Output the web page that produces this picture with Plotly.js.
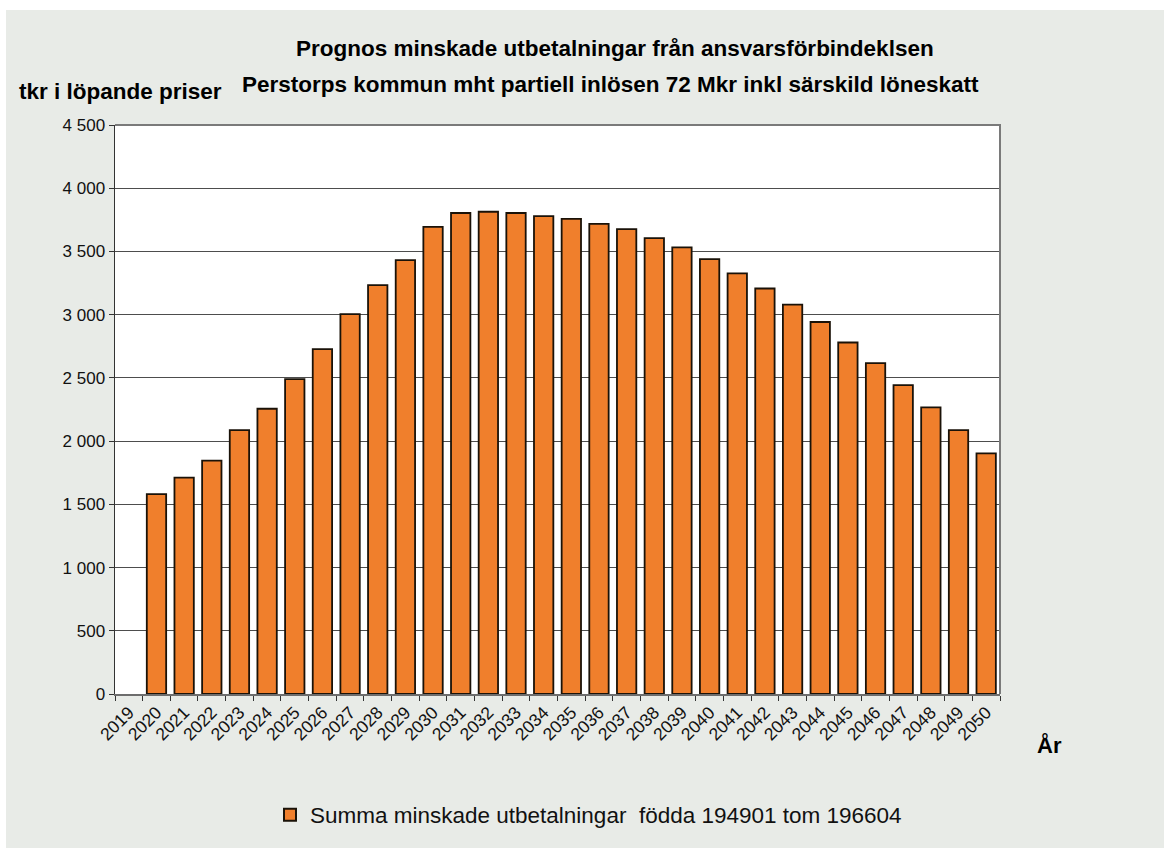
<!DOCTYPE html>
<html>
<head>
<meta charset="utf-8">
<script src="https://cdn.plot.ly/plotly-3.0.1.min.js"></script>
<style>
  html, body { margin: 0; padding: 0; background: #ffffff; }
  #chart { position: absolute; left: 6px; top: 10px; width: 1158px; height: 838px; }
</style>
</head>
<body>
<div id="chart"></div>
<script>
// ---- data ----
const years = ['2019','2020','2021','2022','2023','2024','2025','2026','2027','2028','2029',
  '2030','2031','2032','2033','2034','2035','2036','2037','2038','2039','2040',
  '2041','2042','2043','2044','2045','2046','2047','2048','2049','2050'];
const values = [null, 1580, 1712, 1845, 2087, 2256, 2490, 2727, 3005, 3233, 3432,
  3695, 3804, 3814, 3804, 3780, 3758, 3718, 3677, 3605, 3532, 3440,
  3326, 3207, 3079, 2942, 2780, 2616, 2442, 2267, 2087, 1903];
const seriesName = 'Summa minskade utbetalningar\u00a0 födda 194901 tom 196604';
const titleLine1 = 'Prognos minskade utbetalningar från ansvarsförbindeklsen';
const titleLine2 = 'Perstorps kommun mht partiell inlösen 72 Mkr inkl särskild löneskatt';
const yTitle = 'tkr i löpande priser';
const xTitle = 'År';
const yTickVals = [0, 500, 1000, 1500, 2000, 2500, 3000, 3500, 4000, 4500];

const FONT = '"Liberation Sans Narrow", "Arial Narrow", "Liberation Sans", Arial, sans-serif';

const trace = {
  type: 'bar',
  x: years,
  y: values,
  name: seriesName,
  marker: { color: '#f07f2c', line: { color: '#1a1208', width: 1.8 } },
  showlegend: true,
  hoverinfo: 'x+y'
};

const layout = {
  width: 1158,
  height: 838,
  paper_bgcolor: '#e8ebe7',
  plot_bgcolor: '#ffffff',
  separators: ', ',
  font: { family: FONT, color: '#111111', size: 16 },
  margin: { l: 109, r: 164, t: 115, b: 154 },
  bargap: 0.3,
  xaxis: {
    type: 'category',
    categoryorder: 'array',
    categoryarray: years,
    tickangle: -45,
    ticks: 'outside',
    tickson: 'boundaries',
    ticklen: 5,
    tickcolor: '#333333',
    tickfont: { family: FONT, size: 17.5, color: '#111111' },
    showline: true,
    linecolor: '#6d6d6d',
    linewidth: 1.5,
    showgrid: false,
    zeroline: false,
    fixedrange: true
  },
  yaxis: {
    range: [0, 4500],
    tickvals: yTickVals,
    tickformat: ',d',
    ticks: 'outside',
    ticklen: 5,
    tickcolor: '#333333',
    tickfont: { family: FONT, size: 17, color: '#111111' },
    showline: true,
    linecolor: '#333333',
    linewidth: 1.5,
    showgrid: true,
    gridcolor: '#4d4d4d',
    gridwidth: 1.2,
    zeroline: false,
    fixedrange: true
  },
  shapes: [
    { type: 'path', xref: 'paper', yref: 'paper', path: 'M 0 1 L 1 1 L 1 0',
      line: { color: '#7a7a7a', width: 2 }, layer: 'above' }
  ],
  legend: {
    orientation: 'h',
    x: 0.535, xanchor: 'center',
    y: -0.2127, yanchor: 'middle',
    bgcolor: 'rgba(0,0,0,0)',
    font: { family: FONT, size: 22.5, color: '#111111' },
    itemsizing: 'constant'
  },
  annotations: [
    { text: '<b>' + titleLine1 + '</b>', xref: 'paper', yref: 'paper',
      x: 0.5655, y: 1.1353, xanchor: 'center', yanchor: 'middle', showarrow: false,
      font: { family: FONT, size: 22.5, color: '#000000' } },
    { text: '<b>' + titleLine2 + '</b>', xref: 'paper', yref: 'paper',
      x: 0.560, y: 1.072, xanchor: 'center', yanchor: 'middle', showarrow: false,
      font: { family: FONT, size: 22.5, color: '#000000' } },
    { text: '<b>' + yTitle + '</b>', xref: 'paper', yref: 'paper',
      x: -0.111, y: 1.058, xanchor: 'left', yanchor: 'middle', showarrow: false,
      font: { family: FONT, size: 22.5, color: '#000000' } },
    { text: '<b>' + xTitle + '</b>', xref: 'paper', yref: 'paper',
      x: 1.04, y: -0.09, xanchor: 'left', yanchor: 'middle', showarrow: false,
      font: { family: FONT, size: 22, color: '#000000' } }
  ]
};

Plotly.newPlot('chart', [trace], layout, { displayModeBar: false, staticPlot: true });
</script>
</body>
</html>
